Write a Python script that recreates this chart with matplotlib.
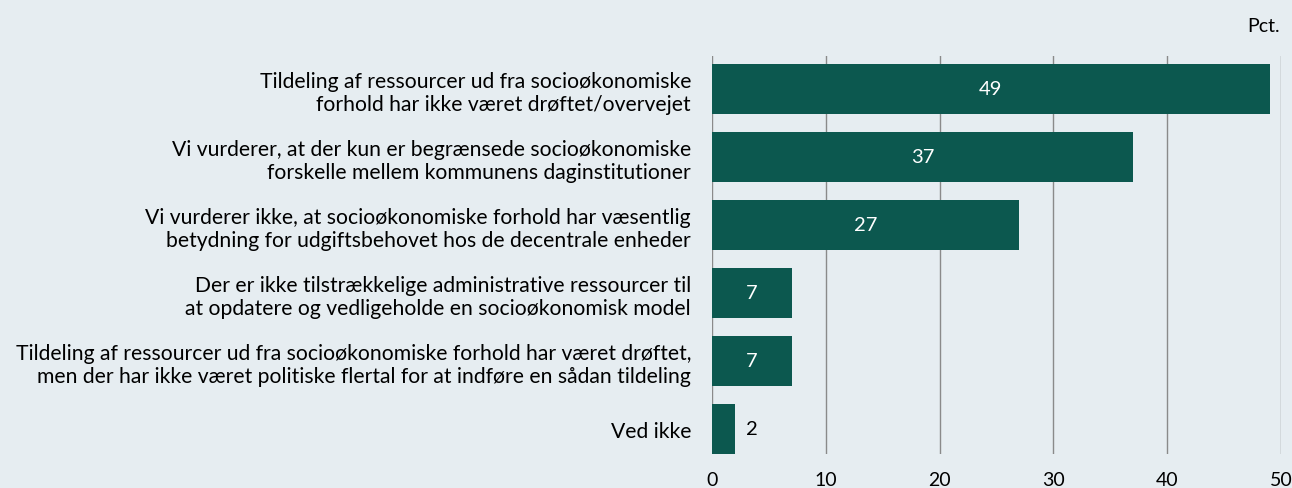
import matplotlib.pyplot as plt

plt.rcParams['font.family'] = ['Lato', 'DejaVu Sans']

# Data
categories = [
    'Tildeling af ressourcer ud fra socioøkonomiske\nforhold har ikke været drøftet/overvejet',
    'Vi vurderer, at der kun er begrænsede socioøkonomiske\nforskelle mellem kommunens daginstitutioner',
    'Vi vurderer ikke, at socioøkonomiske forhold har væsentlig\nbetydning for udgiftsbehovet hos de decentrale enheder',
    'Der er ikke tilstrækkelige administrative ressourcer til\nat opdatere og vedligeholde en socioøkonomisk model',
    'Tildeling af ressourcer ud fra socioøkonomiske forhold har været drøftet,\nmen der har ikke været politiske flertal for at indføre en sådan tildeling',
    'Ved ikke',
]
values = [49, 37, 27, 7, 7, 2]
xticks = [0, 10, 20, 30, 40, 50]

bg = '#e6edf1'
bar_color = '#0c584f'

fig = plt.figure(figsize=(12.92, 4.89), dpi=100, facecolor=bg)
ax = fig.add_axes([0.551, 0.0695, 0.4405, 0.8139])
ax.set_facecolor(bg)

ypos = list(range(len(categories)))
ax.barh(ypos, values, height=0.735, color=bar_color, zorder=3)

for y, v in zip(ypos, values):
    if v >= 5:
        ax.text(v / 2, y, str(v), ha='center', va='center', color='white', fontsize=14.5, zorder=4)
    else:
        ax.text(v + 1.5, y, str(v), ha='center', va='center', color='black', fontsize=14.5, zorder=4)

ax.set_xlim(0, 50)
ax.set_ylim(5.368, -0.485)
ax.set_xticks(xticks)
ax.set_yticks(ypos)
ax.set_yticklabels(categories, fontsize=15.2, linespacing=1.2)
ax.tick_params(axis='both', length=0)
ax.tick_params(axis='y', pad=15)
ax.tick_params(axis='x', pad=12, labelsize=14)
ax.grid(axis='x', color='#8a8a8a', linewidth=1, zorder=0)
for s in ax.spines.values():
    s.set_visible(False)

fig.text(0.991, 0.945, 'Pct.', ha='right', va='center', fontsize=14)

fig.savefig('out.png', dpi=100, facecolor=bg)
